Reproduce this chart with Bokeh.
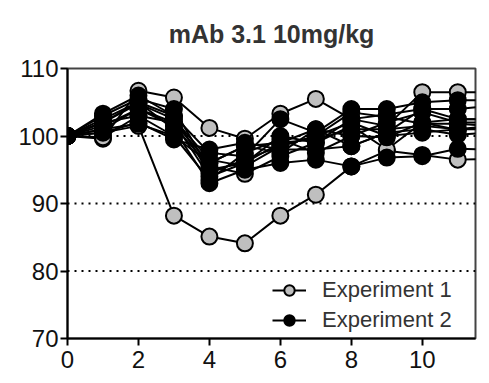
from bokeh.plotting import figure
from bokeh.models import Span, Legend, LegendItem, FixedTicker, Range1d
from bokeh.embed import file_html
from bokeh.resources import INLINE

days = [0, 1, 2, 3, 4, 5, 6, 7, 8, 9, 10, 11, 12]

exp1_series = [
    [100, 99.6, 106.7, 105.7, 101.2, 99.6, 103.3, 105.5, 102.5, 101.5, 106.5, 106.5, 106.5],
    [100, 100.5, 101.5, 88.2, 85.1, 84.1, 88.2, 91.3, 95.5, 97.8, 97.2, 96.5, 96.6],
    [100, 101.0, 104.0, 101.5, 95.5, 94.4, 97.0, 99.0, 101.5, 98.0, 102.0, 100.9, 101.5],
    [100, 102.0, 105.0, 103.0, 94.5, 96.5, 98.5, 100.0, 103.5, 102.8, 101.8, 101.8, 101.5],
    [100, 99.8, 103.0, 102.0, 96.0, 98.5, 99.0, 101.0, 98.5, 100.5, 104.0, 102.5, 102.5],
]

exp2_series = [
    [100, 103.3, 106.0, 103.0, 97.5, 97.0, 102.5, 100.5, 104.0, 104.0, 105.0, 105.3, 105.3],
    [100, 102.5, 105.0, 101.0, 93.0, 95.0, 96.0, 96.5, 95.5, 96.8, 97.0, 98.1, 98.0],
    [100, 101.5, 104.0, 102.0, 94.0, 96.0, 99.0, 99.5, 101.0, 101.0, 101.5, 101.0, 101.5],
    [100, 102.0, 103.0, 100.0, 96.0, 98.5, 97.5, 101.0, 100.0, 99.8, 102.0, 102.5, 102.5],
    [100, 100.5, 102.0, 99.5, 98.0, 99.0, 98.0, 98.0, 98.5, 100.5, 101.0, 100.2, 100.5],
    [100, 103.0, 105.5, 104.0, 95.0, 96.0, 100.0, 99.0, 102.5, 103.2, 104.0, 104.0, 104.5],
    [100, 101.0, 101.8, 100.0, 93.5, 97.5, 99.5, 97.5, 100.0, 102.0, 103.5, 102.0, 102.0],
    [100, 102.0, 104.8, 102.5, 96.5, 95.5, 98.5, 100.0, 102.0, 100.0, 100.5, 101.0, 101.0],
]

ref_levels = [80, 90, 100]
x_ticks = [0, 2, 4, 6, 8, 10]
y_ticks = [70, 80, 90, 100, 110]
title_text = "mAb 3.1 10mg/kg"
labels = ["Experiment 1", "Experiment 2"]

p = figure(width=481, height=375, output_backend="svg", toolbar_location=None,
           x_range=Range1d(0, 11.5), y_range=Range1d(70, 110),
           min_border_left=67, min_border_right=6, min_border_top=66, min_border_bottom=37)

p.title.text = title_text
p.title.align = "center"
p.title.vertical_align = "top"
p.title.text_font = "Liberation Sans"
p.title.text_font_size = "25px"
p.title.text_font_style = "bold"
p.title.text_color = "#333333"
p.title.standoff = 38

p.xgrid.visible = False
p.ygrid.visible = False
p.outline_line_color = "#444444"
p.outline_line_width = 2

for ax in (p.xaxis, p.yaxis):
    ax.axis_line_width = 2
    ax.axis_line_color = "black"
    ax.major_tick_line_width = 2
    ax.major_tick_line_color = "black"
    ax.major_tick_out = 7
    ax.major_tick_in = 0
    ax.minor_tick_line_color = None
    ax.major_label_text_font = "Liberation Sans"
    ax.major_label_text_font_size = "24px"
    ax.major_label_text_color = "#111111"
p.xaxis.ticker = FixedTicker(ticks=x_ticks)
p.yaxis.ticker = FixedTicker(ticks=y_ticks)
p.xaxis.major_label_standoff = 5
p.yaxis.major_label_standoff = 2

for lv in ref_levels:
    p.add_layout(Span(location=lv, dimension="width", line_color="black",
                      line_width=2, line_dash="2 5"))

gray = "#bfbfbf"
g_line = g_pt = None
for ys in exp1_series:
    g_line = p.line(days, ys, line_color="black", line_width=2)
    g_pt = p.scatter(days, ys, size=16, fill_color=gray, line_color="black", line_width=2)

b_line = b_pt = None
for ys in exp2_series:
    b_line = p.line(days, ys, line_color="black", line_width=2)
    b_pt = p.scatter(days, ys, size=16, fill_color="black", line_color="black", line_width=2)

legend = Legend(items=[LegendItem(label=labels[0], renderers=[g_line, g_pt]),
                       LegendItem(label=labels[1], renderers=[b_line, b_pt])],
                location=(205, 5))
legend.background_fill_alpha = 0
legend.border_line_color = None
legend.label_text_font = "Liberation Sans"
legend.label_text_font_size = "22px"
legend.label_text_color = "#333333"
legend.glyph_width = 34
legend.glyph_height = 26
legend.label_standoff = 16
legend.spacing = 4
legend.margin = 0
legend.padding = 0
legend.label_height = 26
p.add_layout(legend)

open("out.html", "w").write(file_html(p, INLINE))
